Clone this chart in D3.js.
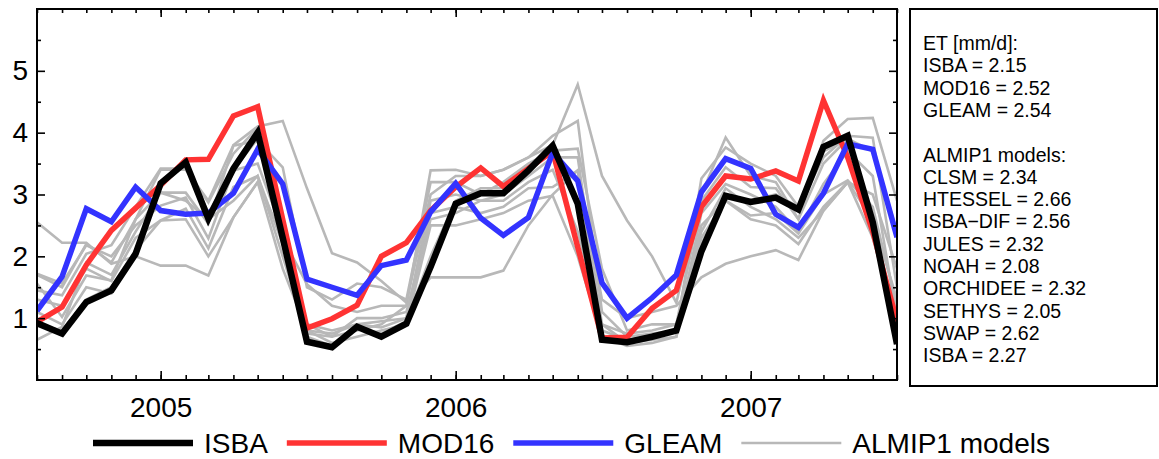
<!DOCTYPE html>
<html>
<head>
<meta charset="utf-8">
<script src="https://cdn.jsdelivr.net/npm/d3@7"></script>
<style>
body { margin:0; background:#fff; }
text { font-family: "Liberation Sans", Arial, sans-serif; }
</style>
</head>
<body>
<svg id="chart" width="1159" height="459"></svg>
<script>
// monthly ET [mm/d], Aug 2004 - Jul 2007
var start_month = new Date(Date.UTC(2004, 7, 1))
var end_month = new Date(Date.UTC(2007, 7, 1))

var isba = [0.92,0.75,1.26,1.45,2.04,3.18,3.52,2.61,3.42,4.00,2.30,0.62,0.53,0.86,0.70,0.91,1.83,2.85,3.02,3.02,3.39,3.79,2.85,0.65,0.61,0.70,0.80,2.08,2.98,2.88,2.95,2.76,3.77,3.95,2.55,0.58]
var mod16 = [0.94,1.18,1.86,2.42,2.78,3.15,3.56,3.57,4.27,4.42,2.60,0.84,0.99,1.21,2.00,2.22,2.74,3.12,3.43,3.13,3.42,3.70,2.15,0.68,0.69,1.16,1.45,2.80,3.30,3.25,3.38,3.22,4.52,3.60,2.40,0.95]
var gleam = [1.12,1.67,2.77,2.56,3.12,2.74,2.68,2.70,3.02,3.73,3.17,1.63,1.50,1.37,1.85,1.94,2.72,3.18,2.62,2.34,2.63,3.68,3.22,1.57,1.00,1.33,1.70,3.04,3.58,3.42,2.68,2.47,3.02,3.82,3.73,2.31]

// ALMIP1 models
var clsm = [1.72,1.56,2.18,2.00,2.50,2.82,2.95,2.29,3.39,3.50,2.40,0.80,0.75,0.90,0.85,1.00,2.90,3.00,2.90,3.00,3.30,3.60,3.60,0.90,0.60,0.65,0.70,2.70,3.17,3.00,2.80,2.40,3.17,3.70,3.30,1.00]
var htessel = [1.70,1.50,2.20,1.90,2.60,3.40,3.40,2.90,3.80,4.10,4.19,3.10,2.05,1.90,1.60,1.25,3.00,3.30,3.30,3.40,3.60,3.80,4.78,3.30,2.58,2.00,1.25,3.00,3.92,3.30,3.20,2.60,3.87,4.22,4.24,2.90]
var isba_dif = [1.45,1.37,2.04,2.18,2.80,3.42,3.42,2.87,3.66,4.08,2.60,0.90,0.70,0.80,0.90,1.20,3.39,3.40,3.30,3.40,3.60,3.95,4.19,1.10,0.70,0.75,0.80,3.26,3.76,3.50,3.30,2.80,3.60,3.95,3.92,1.50]
var jules = [1.30,1.20,1.80,1.60,2.30,2.58,2.77,2.13,3.12,3.30,2.20,0.90,0.80,0.90,0.95,1.00,2.70,2.80,2.70,2.80,3.10,3.12,3.39,0.80,0.65,0.70,0.80,2.50,2.90,2.66,2.70,2.37,3.00,3.23,2.80,1.20]
var noah = [2.55,2.22,2.22,1.88,2.00,1.85,1.85,1.69,2.63,3.20,2.30,1.55,1.20,1.10,1.20,1.20,1.66,1.66,1.66,1.77,2.50,3.00,3.39,1.30,1.00,1.10,1.20,1.66,1.88,2.00,2.10,1.94,2.74,3.20,3.00,1.80]
var orchidee = [0.65,0.86,1.90,1.70,2.40,3.03,2.90,2.60,2.90,3.30,2.00,0.75,0.70,1.00,1.00,1.10,2.60,2.70,2.90,2.90,3.20,3.40,2.40,0.90,0.75,0.80,0.90,2.40,3.10,2.80,2.60,2.30,2.74,3.20,2.60,1.30]
var sethys = [1.10,0.90,1.50,1.40,2.10,2.58,2.60,2.00,2.63,3.20,1.80,0.80,0.60,0.70,0.80,0.90,2.50,2.50,2.60,2.70,2.90,2.98,2.00,0.70,0.55,0.60,0.70,2.30,2.90,2.60,2.50,2.20,2.80,3.20,2.30,0.90]
var swap = [1.56,1.02,1.69,1.61,2.60,3.03,3.03,2.53,3.79,3.87,3.44,1.50,1.30,1.56,1.50,1.30,3.20,3.20,3.00,3.20,3.50,3.71,3.74,1.80,0.80,0.90,0.90,2.90,3.44,3.12,3.10,2.60,3.50,3.90,3.70,2.40]
var isba_almip = [0.90,0.80,1.30,1.50,2.10,3.20,3.50,2.70,3.40,3.90,2.40,0.70,0.55,0.85,0.75,0.95,2.00,2.90,3.10,3.10,3.40,3.80,2.90,0.70,0.65,0.70,0.80,2.20,3.00,2.90,3.00,2.80,3.70,3.90,2.60,0.65]

var y_ticks = [1,2,3,4,5]
var legend_names = ["ISBA","MOD16","GLEAM","ALMIP1 models"]
var info_lines = ["ET [mm/d]:","ISBA = 2.15","MOD16 = 2.52","GLEAM = 2.54","",
    "ALMIP1 models:","CLSM = 2.34","HTESSEL = 2.66","ISBA\u2212DIF = 2.56","JULES = 2.32",
    "NOAH = 2.08","ORCHIDEE = 2.32","SETHYS = 2.05","SWAP = 2.62","ISBA = 2.27"]

var months = d3.utcMonth.range(start_month, end_month)
var almip = [clsm, htessel, isba_dif, jules, noah, orchidee, sethys, swap, isba_almip]

var plot_l = 37, plot_r = 897, plot_t = 9, plot_b = 380
var svg = d3.select("#chart")

var x = d3.scaleUtc().domain([months[0], months[months.length-1]]).range([plot_l, plot_r])
var y = d3.scaleLinear().domain([0, 6]).range([plot_b, plot_t])

svg.append("clipPath").attr("id","clip")
    .append("rect").attr("x",plot_l).attr("y",plot_t).attr("width",plot_r-plot_l).attr("height",plot_b-plot_t)

var line = d3.line()
    .x(function(d,i){ return x(months[i]) })
    .y(function(d){ return y(d) })

var g_lines = svg.append("g").attr("clip-path","url(#clip)")

g_lines.selectAll(".almip").data(almip).enter().append("path")
    .attr("class","almip")
    .attr("d", line)
    .style("fill","none").style("stroke","#b8b8b8").style("stroke-width",2.6)

function draw_series(values, colour, width){
    g_lines.append("path")
        .datum(values)
        .attr("d", line)
        .style("fill","none").style("stroke",colour).style("stroke-width",width)
}
draw_series(mod16, "#ff3333", 5.5)
draw_series(gleam, "#3333ff", 5.5)
draw_series(isba, "#000000", 6.5)

// axes, ticks inward on all sides
function style_axis(g){
    g.select(".domain").remove()
    g.selectAll("line").style("stroke","#000").style("stroke-width",1.6)
}
var minor_y = d3.range(0.5, 6, 1)
var years = d3.utcYear.range(start_month, end_month)

svg.append("g").attr("transform","translate("+plot_l+",0)")
    .call(d3.axisLeft(y).tickValues(y_ticks).tickSize(-8).tickPadding(9).tickFormat(d3.format("d")))
    .call(style_axis)
    .selectAll("text").style("font-size","28px").style("fill","#000")
svg.append("g").attr("transform","translate("+plot_l+",0)")
    .call(d3.axisLeft(y).tickValues(minor_y).tickSize(-4).tickFormat(""))
    .call(style_axis)
svg.append("g").attr("transform","translate("+plot_r+",0)")
    .call(d3.axisRight(y).tickValues(y_ticks).tickSize(-8).tickFormat(""))
    .call(style_axis)
svg.append("g").attr("transform","translate("+plot_r+",0)")
    .call(d3.axisRight(y).tickValues(minor_y).tickSize(-4).tickFormat(""))
    .call(style_axis)

svg.append("g").attr("transform","translate(0,"+plot_b+")")
    .call(d3.axisBottom(x).tickValues(years).tickSize(-9).tickPadding(17).tickFormat(d3.utcFormat("%Y")))
    .call(style_axis)
    .selectAll("text").style("font-size","28px").style("fill","#000")
svg.append("g").attr("transform","translate(0,"+plot_b+")")
    .call(d3.axisBottom(x).tickValues(months).tickSize(-5).tickFormat(""))
    .call(style_axis)
svg.append("g").attr("transform","translate(0,"+plot_t+")")
    .call(d3.axisTop(x).tickValues(years).tickSize(-8).tickFormat(""))
    .call(style_axis)
svg.append("g").attr("transform","translate(0,"+plot_t+")")
    .call(d3.axisTop(x).tickValues(months).tickSize(-4).tickFormat(""))
    .call(style_axis)

svg.append("rect")
    .attr("x",plot_l).attr("y",plot_t).attr("width",plot_r-plot_l).attr("height",plot_b-plot_t)
    .style("fill","none").style("stroke","#000").style("stroke-width",2)

// info box
svg.append("rect")
    .attr("x",910).attr("y",9).attr("width",247).attr("height",377)
    .style("fill","none").style("stroke","#000").style("stroke-width",2)
svg.append("g").selectAll("text").data(info_lines).enter().append("text")
    .attr("x",923)
    .attr("y",function(d,i){ return 50 + i*22.3 })
    .style("font-size","19.5px")
    .text(function(d){ return d })

// legend
var legend_colours = ["#000000","#ff3333","#3333ff","#b8b8b8"]
var legend_widths = [6.5,5.5,5.5,2.6]
var lx = 93
for(var k = 0; k < legend_names.length; k++)
{
    svg.append("line")
        .attr("x1",lx).attr("x2",lx+100).attr("y1",443).attr("y2",443)
        .style("stroke",legend_colours[k]).style("stroke-width",legend_widths[k])
    var t = svg.append("text")
        .attr("x",lx+111).attr("y",453)
        .style("font-size","28px")
        .text(legend_names[k])
    lx = lx + 111 + t.node().getComputedTextLength() + 19
}
</script>
</body>
</html>
